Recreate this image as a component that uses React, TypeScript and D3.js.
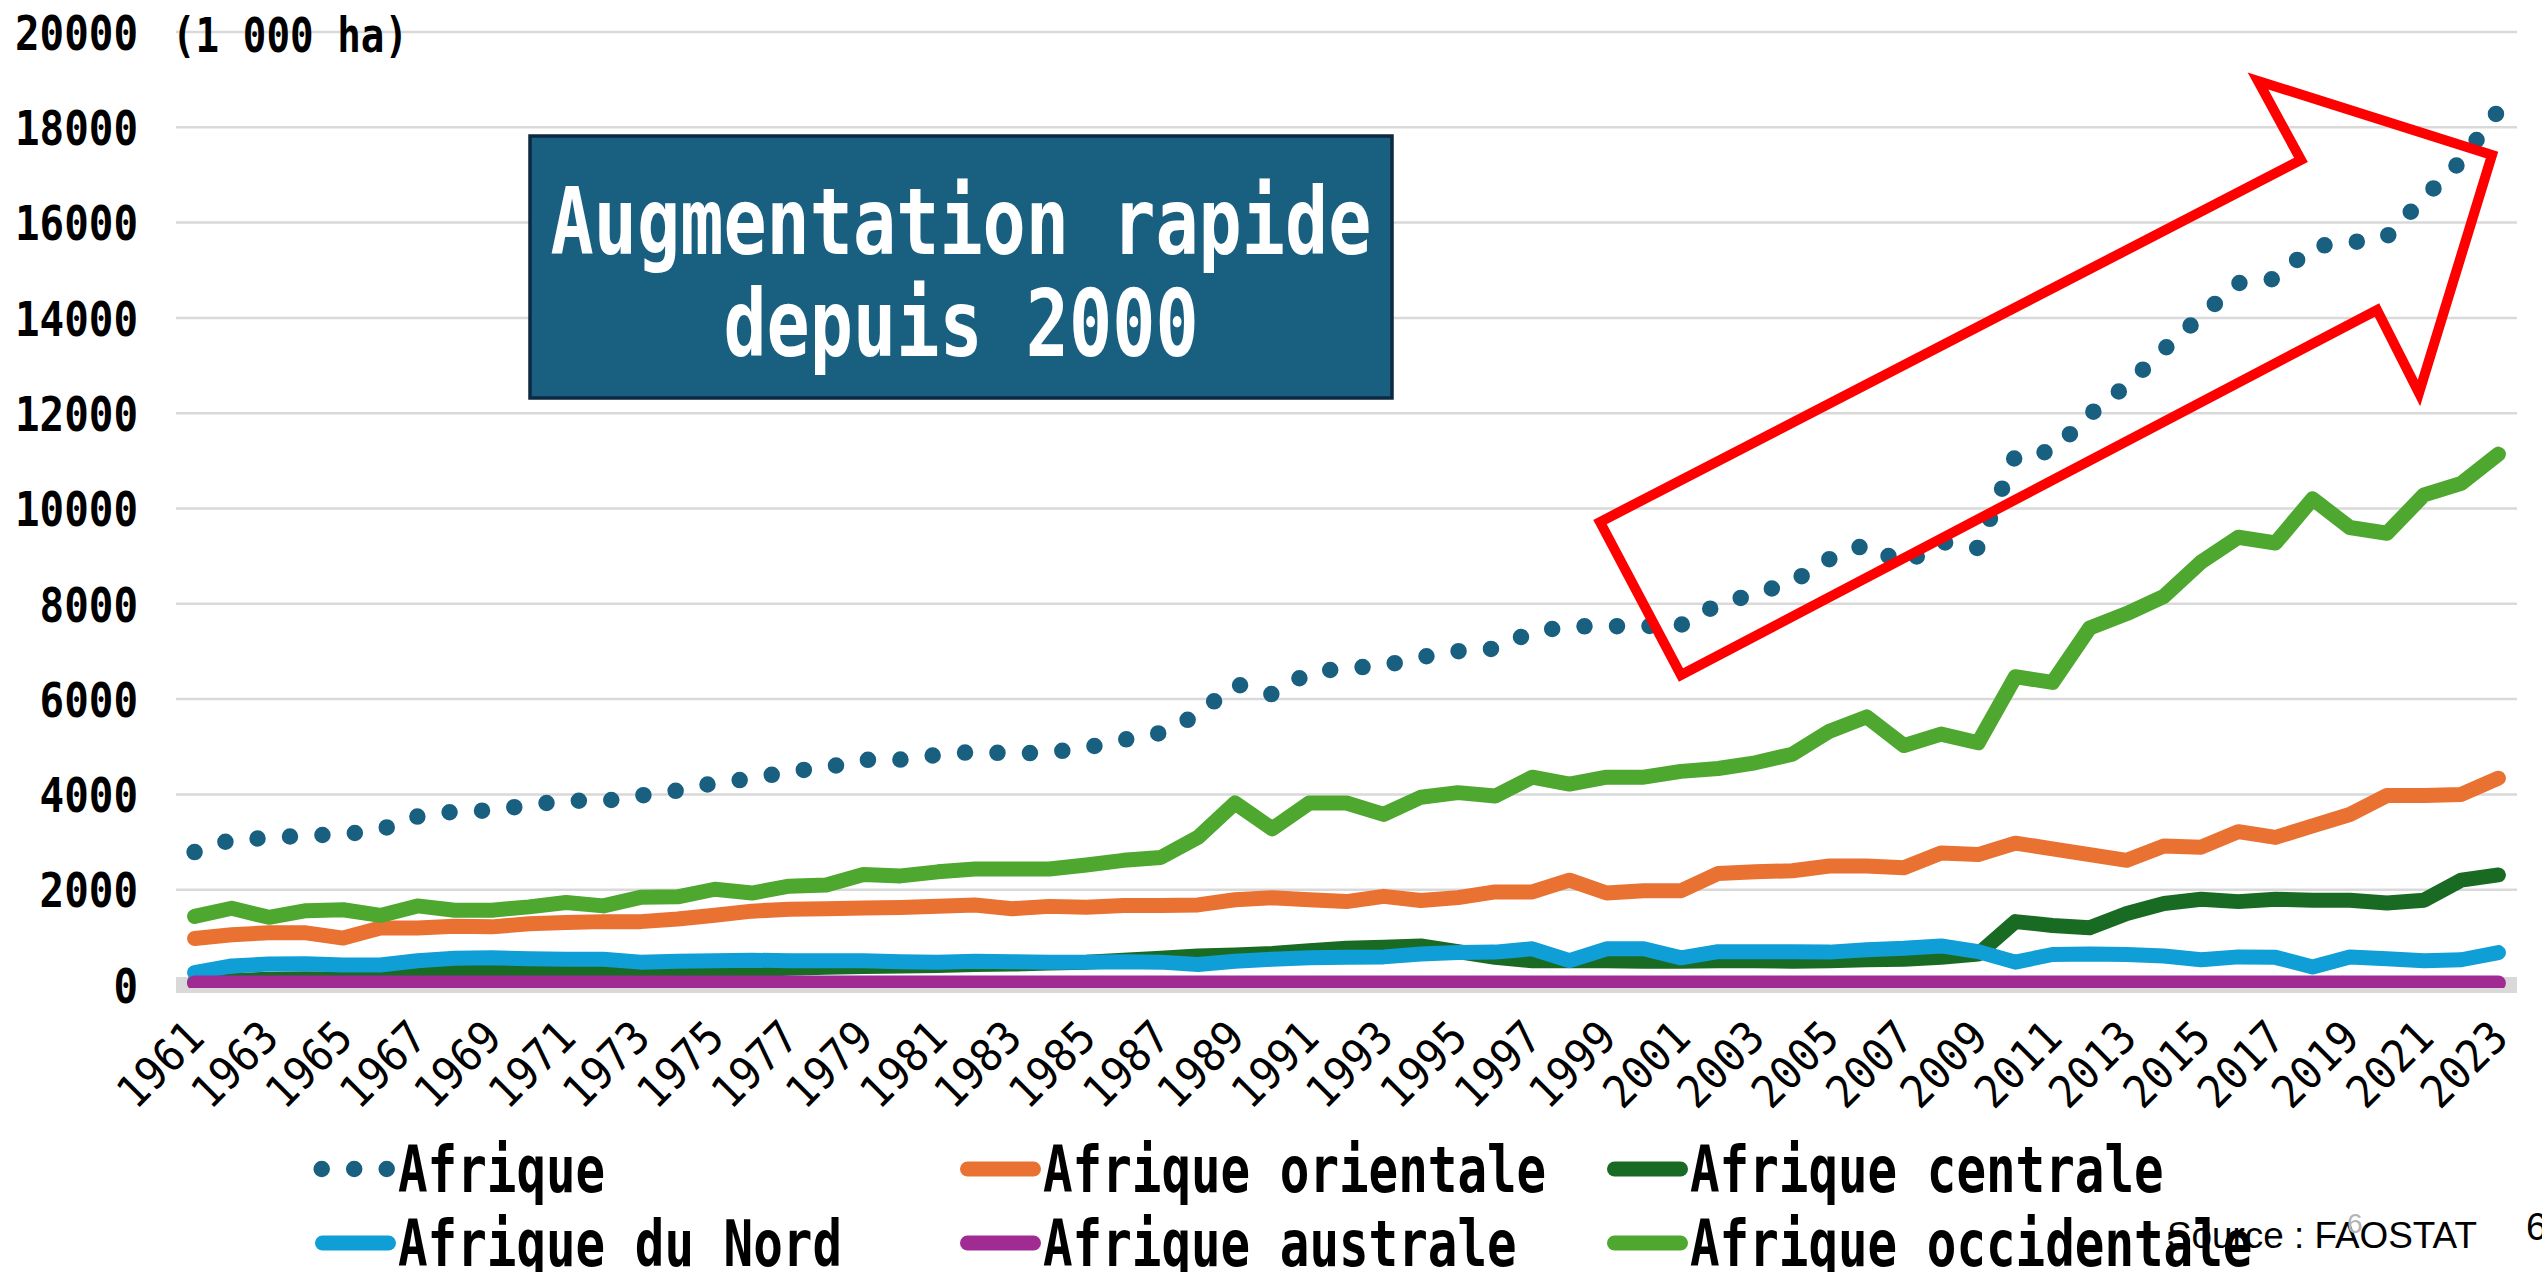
import React from 'react';
import * as d3 from 'd3';

const years = [
  1961, 1962, 1963, 1964, 1965, 1966, 1967, 1968, 1969, 1970,
  1971, 1972, 1973, 1974, 1975, 1976, 1977, 1978, 1979, 1980,
  1981, 1982, 1983, 1984, 1985, 1986, 1987, 1988, 1989, 1990,
  1991, 1992, 1993, 1994, 1995, 1996, 1997, 1998, 1999, 2000,
  2001, 2002, 2003, 2004, 2005, 2006, 2007, 2008, 2009, 2010,
  2011, 2012, 2013, 2014, 2015, 2016, 2017, 2018, 2019, 2020,
  2021, 2022, 2023,
];

const afrique = [
  2790, 3050, 3085, 3140, 3158, 3260, 3535, 3640, 3665, 3775,
  3870, 3858, 3975, 4080, 4240, 4330, 4480, 4565, 4724, 4730,
  4830, 4895, 4857, 4878, 4980, 5145, 5290, 5670, 6320, 6100,
  6560, 6650, 6700, 6880, 7005, 7060, 7410, 7525, 7530, 7530,
  7555, 7990, 8210, 8460, 8940, 9250, 8830, 9300, 9170, 11110,
  11200, 11970, 12590, 13340, 14040, 14730, 14820, 15500, 15574, 15707,
  16520, 17300, 18350,
];

const orientale = [
  975, 1055, 1095, 1095, 985, 1195, 1195, 1235, 1220, 1285,
  1310, 1330, 1330, 1385, 1465, 1550, 1590, 1600, 1617, 1629,
  1653, 1680, 1600, 1650, 1630, 1670, 1670, 1680, 1790, 1830,
  1790, 1750, 1860, 1774, 1834, 1954, 1954, 2200, 1930, 1978,
  1978, 2339, 2375, 2399, 2496, 2496, 2460, 2770, 2737, 2977,
  2857, 2737, 2616, 2917, 2893, 3218, 3098, 3338, 3579, 3976,
  3976, 4000, 4340,
];

const centrale = [
  60, 90, 120, 130, 120, 150, 230, 280, 290, 270,
  260, 270, 280, 290, 300, 320, 350, 370, 390, 400,
  410, 430, 440, 460, 480, 520, 560, 610, 630, 660,
  720, 770, 790, 820, 700, 580, 510, 510, 510, 500,
  500, 510, 510, 500, 510, 530, 540, 580, 650, 1330,
  1250, 1200, 1500, 1710, 1800, 1750, 1800, 1780, 1780, 1720,
  1780, 2200, 2310,
];

const nord = [
  260, 400, 440, 445, 420, 420, 510, 560, 570, 550,
  540, 540, 480, 500, 510, 520, 510, 510, 510, 490,
  480, 500, 490, 480, 480, 490, 480, 430, 500, 540,
  570, 580, 590, 650, 680, 690, 760, 510, 760, 760,
  570, 700, 700, 700, 690, 740, 770, 820, 700, 480,
  640, 650, 640, 610, 530, 590, 580, 380, 590, 550,
  510, 530, 680,
];

const australe = [
  40, 40, 40, 40, 40, 40, 40, 40, 40, 40,
  40, 40, 40, 40, 40, 40, 40, 40, 40, 40,
  40, 40, 40, 40, 40, 40, 40, 40, 40, 40,
  40, 40, 40, 40, 40, 40, 40, 40, 40, 40,
  40, 40, 40, 40, 40, 40, 40, 40, 40, 40,
  40, 40, 40, 40, 40, 40, 40, 40, 40, 40,
  40, 40, 40,
];

const occidentale = [
  1440, 1610, 1420, 1560, 1580, 1460, 1660, 1570, 1570, 1640,
  1730, 1660, 1840, 1850, 2010, 1930, 2074, 2100, 2320, 2290,
  2375, 2436, 2436, 2436, 2520, 2616, 2676, 3098, 3820, 3279,
  3820, 3820, 3580, 3941, 4037, 3965, 4362, 4218, 4362, 4362,
  4483, 4543, 4663, 4844, 5326, 5627, 5025, 5266, 5085, 6470,
  6350, 7494, 7794, 8156, 8878, 9396, 9276, 10203, 9601, 9480,
  10287, 10528, 11142,
];

const seriesNames = [
  'Afrique',
  'Afrique orientale',
  'Afrique centrale',
  'Afrique du Nord',
  'Afrique australe',
  'Afrique occidentale',
];
const seriesValues = [afrique, orientale, centrale, nord, australe, occidentale];
const seriesColors = ['#185F80', '#E97132', '#196B24', '#0F9ED5', '#A02B93', '#4EA72E'];
const seriesDotted = [true, false, false, false, false, false];

const yTicks = [0, 2000, 4000, 6000, 8000, 10000, 12000, 14000, 16000, 18000, 20000];
const unitLabel = '(1 000 ha)';
const boxLines = ['Augmentation rapide', 'depuis 2000'];
const sourceLabel = 'Source : FAOSTAT';

const W = 2542;
const H = 1272;
const MONO = "'DejaVu Sans Mono', 'Liberation Mono', monospace";

export default function App() {
  const plotLeft = 176;
  const plotRight = 2517;
  const x = d3
    .scalePoint<string>()
    .domain(years.map(String))
    .range([plotLeft, plotRight])
    .padding(0.5);
  const y = d3.scaleLinear().domain([0, 20000]).range([985, 32]);

  const line = d3
    .line<number>()
    .x((_, i) => x(String(years[i])) as number)
    .y((d) => y(d));

  const legendCols = [315, 960, 1607];
  const legendRows = [1169, 1243];

  const arrowPts: [number, number][] = [
    [1600, 522],
    [1681, 675],
    [2377, 310],
    [2419, 393],
    [2492, 155],
    [2258, 81],
    [2301, 160],
  ];

  return (
    <div style={{ width: W, height: H, position: 'relative', overflow: 'hidden' }}>
      <style>{`html,body{margin:0;padding:0;overflow:hidden;background:#fff}`}</style>
      <svg
        width={W}
        height={H}
        viewBox={`0 0 ${W} ${H}`}
        style={{ position: 'absolute', left: 0, top: 0, display: 'block', background: '#fff' }}
      >
        <defs>
          <clipPath id="plotClip">
            <rect x={0} y={0} width={W} height={988} />
          </clipPath>
        </defs>

        {/* gridlines */}
        {yTicks
          .filter((t) => t > 0)
          .map((t) => (
            <line
              key={'g' + t}
              x1={plotLeft}
              x2={plotRight}
              y1={y(t)}
              y2={y(t)}
              stroke="#D9D9D9"
              strokeWidth={2.5}
            />
          ))}
        {/* category axis line */}
        <line x1={plotLeft} x2={plotRight} y1={y(0)} y2={y(0)} stroke="#D9D9D9" strokeWidth={16} />

        {/* y tick labels */}
        {yTicks.map((t) => {
          const s = String(t);
          return (
            <text
              key={'yl' + t}
              x={138}
              y={y(t) + 17.7}
              textAnchor="end"
              fontFamily={MONO}
              fontWeight="bold"
              fontSize={48}
              textLength={s.length * 24.6}
              lengthAdjust="spacingAndGlyphs"
              fill="#000"
            >
              {s}
            </text>
          );
        })}
        <text
          x={172}
          y={52}
          fontFamily={MONO}
          fontWeight="bold"
          fontSize={48}
          textLength={unitLabel.length * 23.6}
          lengthAdjust="spacingAndGlyphs"
          fill="#000"
        >
          {unitLabel}
        </text>

        {/* x tick labels */}
        {years
          .filter((_, i) => i % 2 === 0)
          .map((yr) => {
            const px = (x(String(yr)) as number) + 12;
            const py = 1040;
            return (
              <text
                key={'xl' + yr}
                x={px}
                y={py}
                transform={`rotate(-45 ${px} ${py})`}
                textAnchor="end"
                fontFamily={MONO}
                fontSize={45}
                textLength={4 * 25}
                lengthAdjust="spacingAndGlyphs"
                fill="#000"
              >
                {yr}
              </text>
            );
          })}

        {/* series */}
        <g clipPath="url(#plotClip)">
          {seriesValues.map((vals, si) => (
            <path
              key={'s' + si}
              d={line(vals) as string}
              fill="none"
              stroke={seriesColors[si]}
              strokeWidth={seriesDotted[si] ? 16.5 : 15}
              strokeLinecap="round"
              strokeLinejoin="round"
              strokeDasharray={seriesDotted[si] ? '0 32.5' : undefined}
            />
          ))}
        </g>

        {/* annotation box */}
        <rect x={530} y={136} width={862} height={262} fill="#185F80" stroke="#0E2841" strokeWidth={3.5} />
        {boxLines.map((ln, i) => (
          <text
            key={'bl' + i}
            x={961}
            y={i === 0 ? 254 : 355.5}
            textAnchor="middle"
            fontFamily={MONO}
            fontWeight="bold"
            fontSize={93}
            textLength={ln.length * 43.2}
            lengthAdjust="spacingAndGlyphs"
            fill="#fff"
          >
            {ln}
          </text>
        ))}

        {/* red arrow */}
        <polygon
          points={arrowPts.map((p) => p.join(',')).join(' ')}
          fill="none"
          stroke="#FF0000"
          strokeWidth={10}
          strokeLinejoin="miter"
          strokeMiterlimit={10}
        />

        {/* source and page numbers */}
        <text
          x={2167}
          y={1248}
          fontFamily="'Liberation Sans', Arial, sans-serif"
          fontSize={37}
          textLength={310}
          lengthAdjust="spacingAndGlyphs"
          fill="#000"
        >
          {sourceLabel}
        </text>
        <text x={2347} y={1233} fontFamily="'Liberation Sans', Arial, sans-serif" fontSize={28} fill="#B4B4B4">
          6
        </text>
        <text x={2526} y={1240} fontFamily="'Liberation Sans', Arial, sans-serif" fontSize={38} fill="#000">
          6
        </text>

        {/* legend */}
        {seriesNames.map((name, si) => {
          const col = si % 3;
          const row = Math.floor(si / 3);
          const sx = legendCols[col];
          const cy = legendRows[row];
          return (
            <g key={'lg' + si}>
              {seriesDotted[si] ? (
                <line
                  x1={sx + 6.7}
                  x2={sx + 72}
                  y1={cy}
                  y2={cy}
                  stroke={seriesColors[si]}
                  strokeWidth={16.5}
                  strokeLinecap="round"
                  strokeDasharray="0 32.5"
                />
              ) : (
                <line
                  x1={sx + 7.5}
                  x2={sx + 73.5}
                  y1={cy}
                  y2={cy}
                  stroke={seriesColors[si]}
                  strokeWidth={15}
                  strokeLinecap="round"
                />
              )}
              <text
                x={sx + 83}
                y={cy + 23}
                fontFamily={MONO}
                fontWeight="bold"
                fontSize={64}
                textLength={name.length * 29.6}
                lengthAdjust="spacingAndGlyphs"
                fill="#000"
              >
                {name}
              </text>
            </g>
          );
        })}
      </svg>
    </div>
  );
}
